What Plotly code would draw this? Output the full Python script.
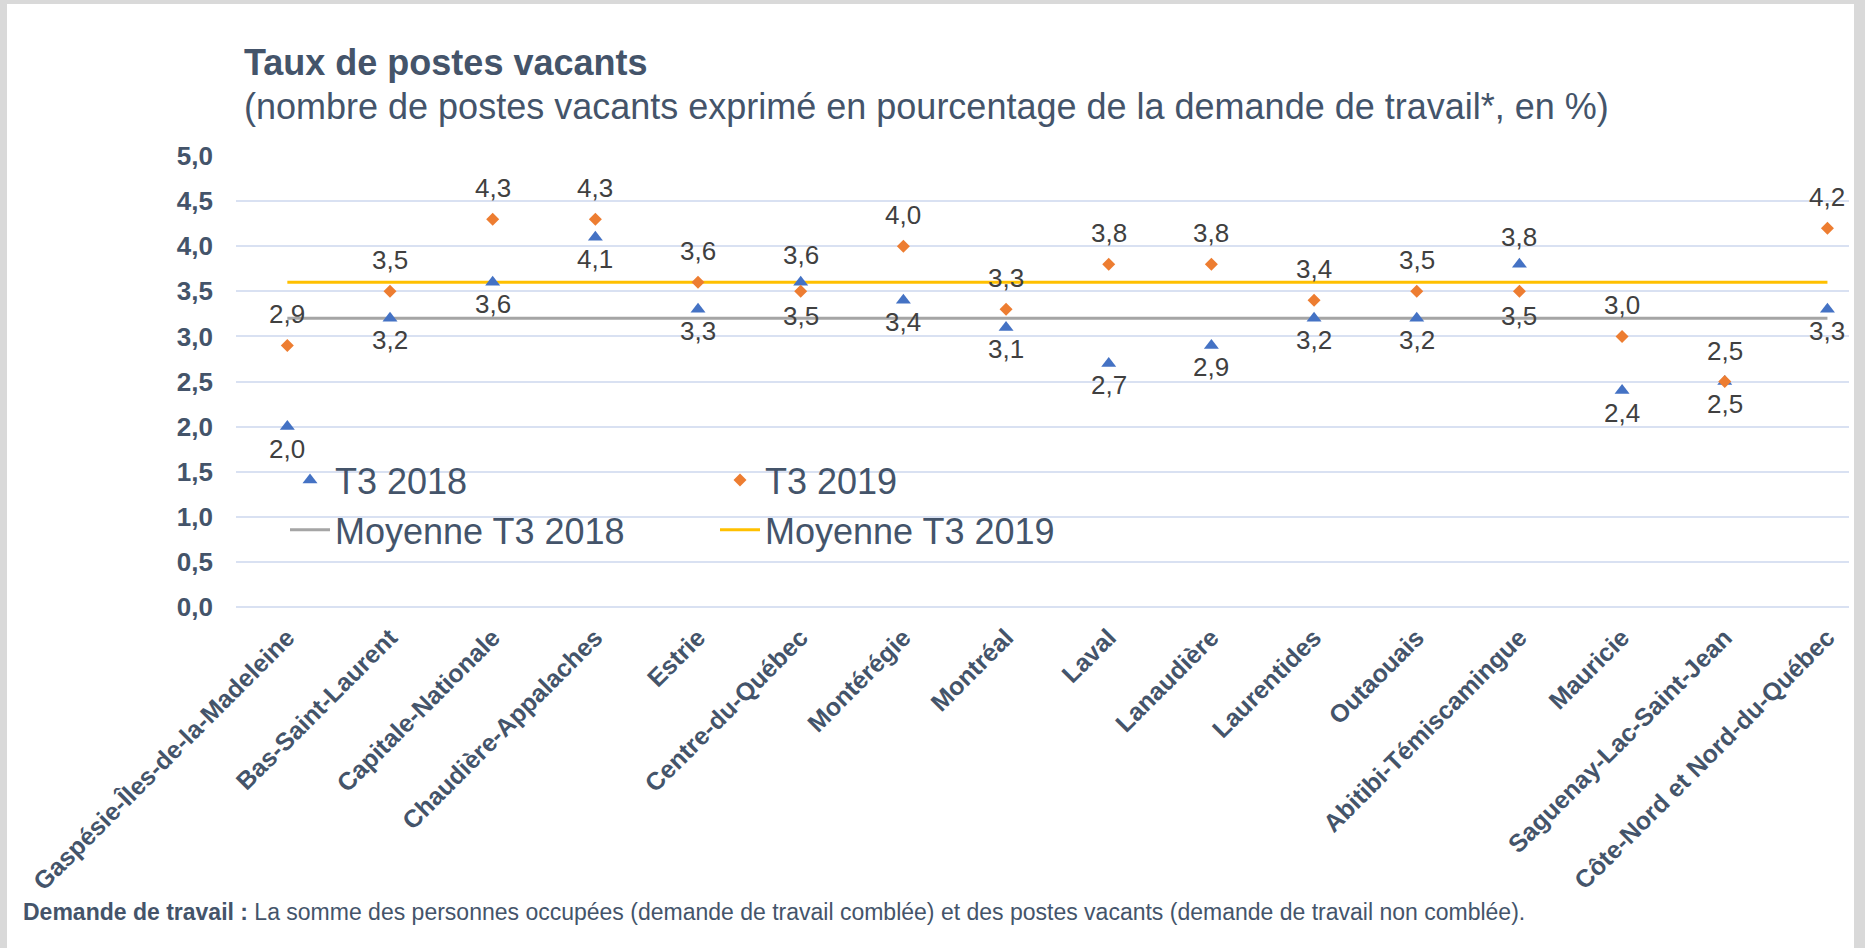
import plotly.graph_objects as go

# categories and values
regions = [
    "Gaspésie-Îles-de-la-Madeleine",
    "Bas-Saint-Laurent",
    "Capitale-Nationale",
    "Chaudière-Appalaches",
    "Estrie",
    "Centre-du-Québec",
    "Montérégie",
    "Montréal",
    "Laval",
    "Lanaudière",
    "Laurentides",
    "Outaouais",
    "Abitibi-Témiscamingue",
    "Mauricie",
    "Saguenay-Lac-Saint-Jean",
    "Côte-Nord et Nord-du-Québec",
]
t3_2018 = [2.0, 3.2, 3.6, 4.1, 3.3, 3.6, 3.4, 3.1, 2.7, 2.9, 3.2, 3.2, 3.8, 2.4, 2.5, 3.3]
t3_2019 = [2.9, 3.5, 4.3, 4.3, 3.6, 3.5, 4.0, 3.3, 3.8, 3.8, 3.4, 3.5, 3.5, 3.0, 2.5, 4.2]
moy_2018 = [3.2, 3.2, 3.2, 3.2, 3.2, 3.2, 3.2, 3.2, 3.2, 3.2, 3.2, 3.2, 3.2, 3.2, 3.2, 3.2]
moy_2019 = [3.6, 3.6, 3.6, 3.6, 3.6, 3.6, 3.6, 3.6, 3.6, 3.6, 3.6, 3.6, 3.6, 3.6, 3.6, 3.6]

# where each data label sits relative to its marker
lbl_2018 = ["below", "below", "below", "below", "below", "above", "below", "below",
            "below", "below", "below", "below", "above", "below", "below", "below"]
lbl_2019 = ["above", "above", "above", "above", "above", "below", "above", "above",
            "above", "above", "above", "above", "below", "above", "above", "above"]

W, H = 1865, 948
L, R, T, B = 236, 16, 156, 341
PW, PH = W - L - R, H - T - B


def px_x(x):
    return (x - L) / PW


def px_y(y):
    return (H - B - y) / PH


FONT = "Liberation Sans, Arial, sans-serif"
SLATE = "#44546A"
LBL = "#404040"

fig = go.Figure()

# mean lines first so the markers sit on top
fig.add_trace(go.Scatter(x=regions, y=moy_2018, mode="lines", name="Moyenne T3 2018",
                         line=dict(color="#A5A5A5", width=3), legend="legend", legendrank=2))
fig.add_trace(go.Scatter(x=regions, y=moy_2019, mode="lines", name="Moyenne T3 2019",
                         line=dict(color="#FFC000", width=3), legend="legend2", legendrank=2))
fig.add_trace(go.Scatter(x=regions, y=t3_2018, mode="markers", name="T3 2018",
                         marker=dict(symbol="triangle-up", size=13, color="#4472C4"),
                         legend="legend", legendrank=1))
fig.add_trace(go.Scatter(x=regions, y=t3_2019, mode="markers", name="T3 2019",
                         marker=dict(symbol="diamond", size=10, color="#ED7D31"),
                         legend="legend2", legendrank=1))

annos = []
for reg, v, pos in zip(regions, t3_2018, lbl_2018):
    annos.append(dict(x=reg, y=v, text=f"{v:.1f}".replace(".", ","), showarrow=False,
                      yshift=27 if pos == "above" else -22,
                      font=dict(family=FONT, size=26, color=LBL)))
for reg, v, pos in zip(regions, t3_2019, lbl_2019):
    annos.append(dict(x=reg, y=v, text=f"{v:.1f}".replace(".", ","), showarrow=False,
                      yshift=31 if pos == "above" else -25,
                      font=dict(family=FONT, size=26, color=LBL)))

# titles and footnote
annos.append(dict(xref="paper", yref="paper", x=px_x(242), y=px_y(63), xanchor="left", yanchor="middle",
                  text="<b>Taux de postes vacants</b>", showarrow=False,
                  font=dict(family=FONT, size=36, color=SLATE)))
annos.append(dict(xref="paper", yref="paper", x=px_x(242), y=px_y(106), xanchor="left", yanchor="middle",
                  text="(nombre de postes vacants exprimé en pourcentage de la demande de travail*, en %)",
                  showarrow=False, font=dict(family=FONT, size=36, color=SLATE)))
annos.append(dict(xref="paper", yref="paper", x=px_x(21), y=px_y(912), xanchor="left", yanchor="middle",
                  text="<b>Demande de travail :</b> La somme des personnes occupées (demande de travail comblée) "
                       "et des postes vacants (demande de travail non comblée).",
                  showarrow=False, font=dict(family=FONT, size=23, color=SLATE)))

# grey frame around the slide
border = "#D9D9D9"
shapes = [
    dict(type="rect", xref="paper", yref="paper", x0=px_x(0), x1=px_x(7), y0=px_y(H), y1=px_y(0),
         fillcolor=border, line_width=0, layer="below"),
    dict(type="rect", xref="paper", yref="paper", x0=px_x(0), x1=px_x(W), y0=px_y(4), y1=px_y(0),
         fillcolor=border, line_width=0, layer="below"),
    dict(type="rect", xref="paper", yref="paper", x0=px_x(1854), x1=px_x(W), y0=px_y(H), y1=px_y(0),
         fillcolor=border, line_width=0, layer="below"),
]

fig.update_layout(
    width=W, height=H,
    margin=dict(l=L, r=R, t=T, b=B),
    paper_bgcolor="white", plot_bgcolor="white",
    separators=", ",
    font=dict(family=FONT, color=SLATE),
    annotations=annos,
    shapes=shapes,
    legend=dict(x=px_x(285), y=px_y(450), xanchor="left", yanchor="top", bgcolor="rgba(0,0,0,0)",
                font=dict(family=FONT, size=36, color=SLATE), itemwidth=40, tracegroupgap=0),
    legend2=dict(x=px_x(715), y=px_y(450), xanchor="left", yanchor="top", bgcolor="rgba(0,0,0,0)",
                 font=dict(family=FONT, size=36, color=SLATE), itemwidth=40, tracegroupgap=0),
    xaxis=dict(type="category", range=[-0.5, 15.21], tickangle=-45, showgrid=False, showline=False,
               ticks="", zeroline=False, ticklabelstandoff=10,
               tickfont=dict(family=FONT, size=25, color=SLATE, weight="bold")),
    yaxis=dict(range=[0, 5], dtick=0.5, tickformat=".1f", showgrid=True, gridcolor="#D9E1F2", gridwidth=2,
               zeroline=True, zerolinecolor="#D9E1F2", zerolinewidth=2, showline=False, ticks="",
               ticklabelstandoff=22,
               tickfont=dict(family=FONT, size=26, color=SLATE, weight="bold")),
)

# the page body has a default 8px margin; drop it so the figure fills the window
fig.write_html("out.html", config={"displayModeBar": False},
               post_script="document.body.style.margin = '0px';")
